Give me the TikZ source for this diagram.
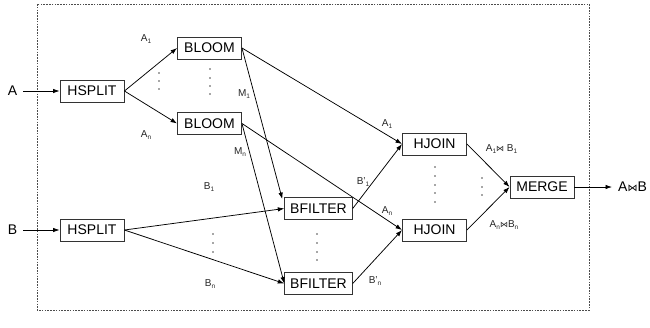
\documentclass[tikz,border=0pt]{standalone}
\usepackage{fontspec}
\setmainfont{Liberation Sans}
\newfontfamily\symfont{DejaVu Sans}
\usetikzlibrary{arrows.meta}

% join symbol and small lowered index
\newcommand\jn{{\symfont\fontsize{8}{9}\selectfont ⋈}}
\newcommand\bigjn{{\symfont\fontsize{10}{11}\selectfont ⋈}}
\newcommand\ix[1]{\raisebox{-0.35ex}{\fontsize{6.5}{7}\selectfont #1}}

\begin{document}
\begin{tikzpicture}[x=1pt,y=-1pt,
  box/.style={draw=black!80,line width=0.9pt,minimum width=64pt,minimum height=22pt,
              inner xsep=5.5pt,font=\fontsize{14}{16}\selectfont},
  lbl/.style={inner sep=0pt,font=\fontsize{10}{11}\selectfont,text=black!85},
  io/.style={inner xsep=6pt,inner ysep=2pt,font=\fontsize{14}{16}\selectfont},
  flow/.style={line width=0.75pt,-{Latex[length=6.5pt,width=4.5pt]}},
  dotc/.style={fill=black!70}]

\useasboundingbox (0,0) rectangle (650,327);

% system boundary
\draw[black!70,line width=0.6pt,dash pattern=on 1.6pt off 1.2pt] (37,4) rectangle (589,310);

% operators
\node[box] (hsA)   at (92,91)      {HSPLIT};
\node[box] (hsB)   at (92,230)     {HSPLIT};
\node[box] (bl1)   at (209.5,48)   {BLOOM};
\node[box] (bln)   at (209.5,123.5){BLOOM};
\node[box] (bf1)   at (318.5,208.5){BFILTER};
\node[box] (bfn)   at (318.5,283.5){BFILTER};
\node[box] (hj1)   at (434.5,144)  {HJOIN};
\node[box] (hjn)   at (434.5,230)  {HJOIN};
\node[box] (merge) at (542,187)    {MERGE};

% inputs and output
\node[io] (inA) at (12.5,91)  {A};
\node[io] (inB) at (12.5,230) {B};
\node[io,anchor=west] (out) at (612,187) {A\bigjn B};

% connectors
\draw[flow] (inA) -- (hsA);
\draw[flow] (inB) -- (hsB);
\draw[flow] (hsA.east) -- (bl1.west);
\draw[flow] (hsA.east) -- (bln.west);
\draw[flow] (bl1.east) -- (hj1.west);
\draw[flow] (bl1.east) -- ([xshift=-2pt,yshift=-2pt]bf1.north west);
\draw[flow] (bln.east) -- (hjn.west);
\draw[flow] (bln.east) -- (bfn.west);
\draw[flow] (hsB.east) -- (bf1.west);
\draw[flow] (hsB.east) -- (bfn.west);
\draw[flow] (bf1.east) -- (hj1.west);
\draw[flow] (bfn.east) -- (hjn.west);
\draw[flow] (hj1.east) -- (merge.west);
\draw[flow] (hjn.east) -- (merge.west);
\draw[flow] (merge) -- (out);

% stream labels
\node[lbl] (lA1)  at (146,39)   {A\ix{1}};
\node[lbl] (lAn)  at (146,135)  {A\ix{n}};
\node[lbl] (lM1)  at (244,94)   {M\ix{1}};
\node[lbl] (lMn)  at (240,152)  {M\ix{n}};
\node[lbl] (lB1)  at (209,187)  {B\ix{1}};
\node[lbl] (lBn)  at (210,284)  {B\ix{n}};
\node[lbl] (rA1)  at (387,124)  {A\ix{1}};
\node[lbl] (rAn)  at (387,211)  {A\ix{n}};
\node[lbl] (rB1)  at (363,182)  {B’\ix{1}};
\node[lbl] (rBn)  at (375,281)  {B’\ix{n}};
\node[lbl] (j1)   at (501.5,149){A\ix{1}\jn\ B\ix{1}};
\node[lbl] (jn)   at (504,225)  {A\ix{n}\jn B\ix{n}};

% vertical ellipses
\foreach \y in {73,81,89}             \fill[dotc] (159,\y) circle (0.8pt);
\foreach \y in {69,78,86,94}          \fill[dotc] (210,\y) circle (0.8pt);
\foreach \y in {234,243,252}          \fill[dotc] (213,\y) circle (0.8pt);
\foreach \y in {234,243,252,260}      \fill[dotc] (317,\y) circle (0.8pt);
\foreach \y in {167,176,185,193,202}  \fill[dotc] (435,\y) circle (0.8pt);
\foreach \y in {178,187,195}          \fill[dotc] (482,\y) circle (0.8pt);
\end{tikzpicture}
\end{document}
